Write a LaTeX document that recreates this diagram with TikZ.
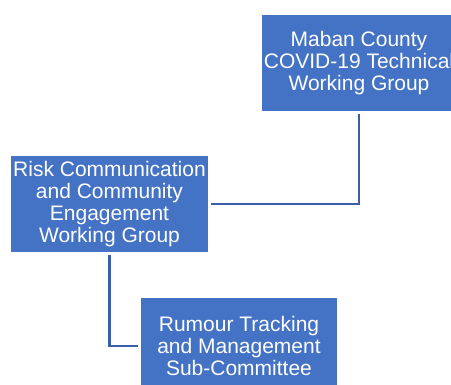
\documentclass[tikz,border=0pt]{standalone}
\usepackage{fontspec}
\setmainfont{Liberation Sans}
\definecolor{boxblue}{RGB}{68,114,196}
\definecolor{lineblue}{RGB}{58,94,168}
\begin{document}
\begin{tikzpicture}[x=1pt,y=1pt,
  orgbox/.style={fill=boxblue, draw=white, line width=1.5pt, text=white, inner sep=0pt,
    align=center, font=\fontsize{21}{21.8}\selectfont},
  conn/.style={draw=lineblue, line width=2.2pt, shorten <=2pt, shorten >=2pt}]
\useasboundingbox (0,0) rectangle (451,385);
\clip (0,0) rectangle (451,385);
\fill[white] (0,0) rectangle (451,385);
\node[orgbox, minimum width=195pt, minimum height=97pt] (top) at (359,322)
  {Maban County\\COVID-19 Technical\\Working Group};
\node[orgbox, minimum width=198pt, minimum height=97pt] (mid) at (109.5,181)
  {Risk Communication\\and Community\\Engagement\\Working Group};
\node[orgbox, minimum width=197pt, minimum height=97pt] (bot) at (239,39)
  {Rumour Tracking\\and Management\\Sub-Committee};
\draw[conn] (top.south) |- (mid.east);
\draw[conn] (mid.south) |- (bot.west);
\end{tikzpicture}
\end{document}
